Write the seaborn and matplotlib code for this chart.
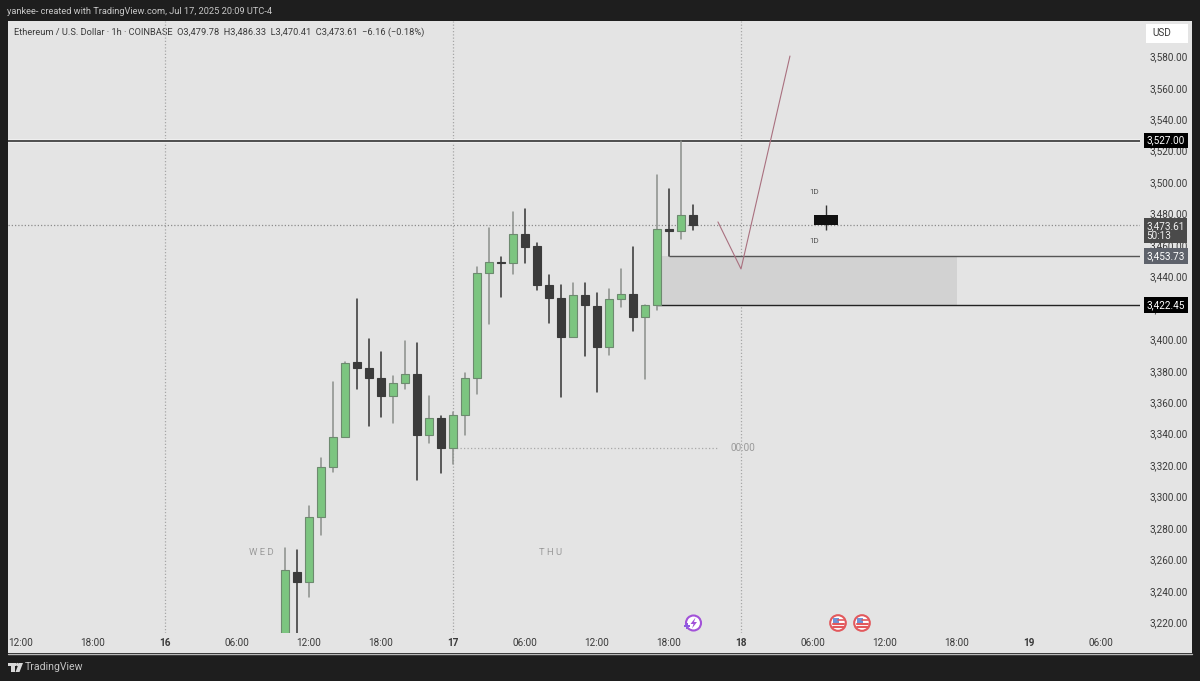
# Ethereum 1h candles, TradingView look
import matplotlib
matplotlib.use("Agg")
import matplotlib.pyplot as plt
from matplotlib.patches import Rectangle, Circle, Polygon
from matplotlib.transforms import ScaledTranslation
import pandas as pd
import seaborn as sns

# hours counted from Jul 16 00:00
hours = list(range(10, 45))
opens = [3205.0, 3252.9, 3246.1, 3287.5, 3319.7, 3338.5, 3386.2, 3382.2, 3375.9, 3364.6,
         3373.1, 3378.8, 3339.8, 3350.6, 3331.7, 3352.7, 3375.9, 3443.0, 3449.9, 3449.0,
         3467.8, 3460.0, 3435.2, 3427.1, 3401.9, 3429.0, 3422.0, 3396.0, 3426.1, 3429.4,
         3414.9, 3422.5, 3470.5, 3469.4, 3479.78]
highs = [3267.8, 3266.7, 3294.9, 3325.4, 3373.7, 3386.4, 3426.3, 3400.9, 3392.4, 3377.3,
         3399.8, 3398.1, 3364.6, 3351.9, 3354.2, 3379.4, 3446.5, 3471.3, 3452.8, 3481.4,
         3483.3, 3461.7, 3441.6, 3435.0, 3436.7, 3436.3, 3429.9, 3432.5, 3445.2, 3459.2,
         3422.5, 3505.1, 3496.1, 3527.0, 3486.33]
lows = [3205.0, 3210.0, 3237.0, 3276.2, 3316.5, 3338.5, 3368.9, 3345.5, 3351.4, 3347.6,
        3369.1, 3311.2, 3334.9, 3315.8, 3321.2, 3339.8, 3365.7, 3410.4, 3427.8, 3442.0,
        3449.0, 3432.0, 3411.2, 3364.2, 3401.9, 3390.2, 3367.3, 3390.7, 3421.0, 3406.1,
        3375.2, 3419.3, 3453.6, 3464.6, 3470.41]
closes = [3253.9, 3246.1, 3287.5, 3319.7, 3338.5, 3385.4, 3382.2, 3375.9, 3364.6, 3373.1,
          3378.8, 3339.8, 3350.6, 3331.7, 3352.7, 3375.9, 3443.0, 3449.6, 3449.0, 3467.8,
          3459.4, 3435.2, 3427.1, 3401.9, 3428.6, 3422.5, 3396.0, 3426.1, 3429.3, 3414.9,
          3422.5, 3470.6, 3469.4, 3479.78, 3473.61]

price_ticks = [3220, 3240, 3260, 3280, 3300, 3320, 3340, 3360, 3380, 3400, 3420, 3440,
               3460, 3480, 3500, 3520, 3540, 3560, 3580]
time_ticks = [-12, -6, 0, 6, 12, 18, 24, 30, 36, 42, 48, 54, 60, 66, 72, 78]
time_labels = ["12:00", "18:00", "16", "06:00", "12:00", "18:00", "17", "06:00", "12:00",
               "18:00", "18", "06:00", "12:00", "18:00", "19", "06:00"]
day_lines = [0, 24, 48]

# drawing levels
level_top = 3527.00
level_mid = 3453.73
level_low = 3422.45
last_close = 3473.61
zone_hours = [41.25, 66]
path_hours = [46.08, 48, 52.08]
path_prices = [3475.3, 3445.4, 3580.8]
midnight_price = 3331.7
day_hour = 55.08
day_open, day_high, day_low, day_close = 3479.78, 3486.33, 3470.41, 3473.61

sns.set_theme(style="white")
plt.rcParams["font.family"] = ["Roboto", "DejaVu Sans"]

BG = "#e4e4e4"
FRAME = "#1e1e1e"
GREEN = "#7cc580"
DARK = "#3b3b3b"
TXT = "#3a3a3a"
TICK_SIZE = 7.2

fig = plt.figure(figsize=(12, 6.81), dpi=100, facecolor=FRAME)

# pixel canvas behind the chart for frame text and icons
ov = fig.add_axes([0, 0, 1, 1], zorder=0)
ov.set_xlim(0, 1200)
ov.set_ylim(681, 0)
ov.axis("off")
ov.add_patch(Rectangle((8, 21), 1184, 632, fc=BG, ec="none"))
ov.plot([8, 1192], [653.5, 653.5], color="#b8b8b8", lw=1)
ov.add_patch(Rectangle((1146, 24), 42, 19, fc="white", ec="none"))
ov.text(1152, 33.5, "USD", fontsize=TICK_SIZE, color=TXT, va="center")
ov.text(7, 11, "yankee- created with TradingView.com, Jul 17, 2025 20:09 UTC-4",
        fontsize=6.7, color="#c8c8c8", va="center")
ov.text(14, 32, "Ethereum / U.S. Dollar · 1h · COINBASE  O3,479.78  H3,486.33  L3,470.41  "
        "C3,473.61  −6.16 (−0.18%)", fontsize=6.7, color=TXT, va="center")

# TradingView mark and name
ov.add_patch(Rectangle((8, 663), 8, 3, fc="#d8d8d8", ec="none"))
ov.add_patch(Rectangle((11, 663), 4, 9, fc="#d8d8d8", ec="none"))
ov.add_patch(Circle((17.5, 664.5), 1.6, fc="#d8d8d8", ec="none"))
ov.add_patch(Polygon([[19, 663], [23, 663], [19.5, 672], [15.5, 672]], fc="#d8d8d8", ec="none"))
ov.text(25, 667.5, "TradingView", fontsize=7.6, color="#c4c4c4", va="center")

# event icons on the time strip
ov.add_patch(Circle((693.5, 623), 7.5, fc="white", ec="#a251d8", lw=1.5))
ov.add_patch(Polygon([[695.5, 617.5], [690.5, 624], [693.5, 624], [692, 628.5], [697, 622], [694, 622]],
                     fc="#a251d8", ec="none"))
ov.scatter([686.5], [626], s=24, marker="P", color="#8f5be0", linewidths=0)
for cx in [838, 862]:
    ov.add_patch(Circle((cx, 623), 7.8, fc="white", ec="#e2585c", lw=1.5))
    for dy in [0.5, 3.5]:
        ov.plot([cx - 5.5, cx + 5.5], [623 + dy, 623 + dy], color="#e2585c", lw=1.5)
    ov.plot([cx, cx + 5.5], [620, 620], color="#e2585c", lw=1.2)
    ov.add_patch(Rectangle((cx - 5.5, 617.5), 6, 5.5, fc="#6f93d6", ec="none"))

# main chart, transparent so the panel shows through
ax = fig.add_axes([8 / 1200, 1 - 633 / 681, 1132 / 1200, 612 / 681], zorder=1)
ax.patch.set_alpha(0)
for side in ax.spines.values():
    side.set_visible(False)

df = pd.DataFrame({"hour": hours, "open": opens, "high": highs, "low": lows, "close": closes})
df["up"] = df["close"] >= df["open"]

# wicks through seaborn, one line per candle
wicks = df.melt(id_vars=["hour", "up"], value_vars=["high", "low"], value_name="price")
sns.lineplot(data=wicks, x="hour", y="price", units="hour", estimator=None, hue="up",
             palette={True: "#8b8f8b", False: "#333333"}, linewidth=1.1, legend=False,
             ax=ax, zorder=3)

# candle bodies
body_low = df[["open", "close"]].min(axis=1)
body_size = (df["close"] - df["open"]).abs().clip(lower=0.9)
ax.bar(df["hour"], body_size, bottom=body_low, width=0.68, zorder=4,
       color=[GREEN if u else DARK for u in df["up"]],
       edgecolor=["#6d8a6f" if u else "#3b3b3b" for u in df["up"]], linewidth=0.8)

# dotted guides
ax.vlines(day_lines, 0, 1, transform=ax.get_xaxis_transform(), color="#a6a6a6",
          lw=0.9, ls=(0, (1, 1.6)), zorder=1)
ax.axhline(last_close, color="#8c8c8c", lw=0.9, ls=(0, (1, 1.6)), zorder=1)
ax.plot([24, 46.2], [midnight_price, midnight_price], color="#a8a8a8", lw=0.9,
        ls=(0, (1, 1.8)), zorder=1)
ax.text(48.2, midnight_price, "00:00", fontsize=7.2, color="#9a9a9a", ha="center", va="center")

# zone and levels
ax.fill_between(zone_hours, level_low, level_mid, color="#d2d2d2", lw=0, zorder=2)
ax.axhline(level_top, color="#f0f0f0", lw=2.8, zorder=2)
ax.axhline(level_top, color="#222222", lw=1.1, zorder=2)
ax.hlines(level_mid, 42, 81.25, color="#555555", lw=1.0, zorder=2)
ax.hlines(level_low, 41, 81.25, color="#222222", lw=1.0, zorder=2)

# projected move
ax.plot(path_hours, path_prices, color="#a9707f", lw=0.8, zorder=5)

# daily candle
ax.vlines(day_hour, day_low, day_high, color="#333333", lw=1.0, zorder=3)
ax.bar(day_hour, day_open - day_close, bottom=day_close, width=2.0, color="#111111",
       edgecolor="none", zorder=4)
ax.text(54.1, 3494.4, "1D", fontsize=5.8, color="#555555", ha="center", va="center")
ax.text(54.1, 3463.0, "1D", fontsize=5.8, color="#555555", ha="center", va="center")

ax.text(8, 3264.8, "W E D", fontsize=6.8, color="#9a9a9a", ha="center", va="center")
ax.text(32.17, 3264.8, "T H U", fontsize=6.8, color="#9a9a9a", ha="center", va="center")

ax.set_xlim(-13.083, 81.25)
ax.set_ylim(3213.9, 3603.08)
ax.set_xlabel("")
ax.set_ylabel("")

ax.yaxis.tick_right()
ax.set_yticks(price_ticks, [f"{p:,.2f}" for p in price_ticks])
ax.set_xticks(time_ticks, time_labels)
ax.tick_params(axis="y", length=0, pad=6.5, labelsize=TICK_SIZE, labelcolor=TXT)
ax.tick_params(axis="x", length=0, pad=3.5, labelsize=TICK_SIZE, labelcolor=TXT)
for lab, name in zip(ax.get_xticklabels(), time_labels):
    if ":" not in name:
        lab.set_fontweight("bold")
for lab in ax.get_yticklabels():
    lab.set_transform(lab.get_transform() + ScaledTranslation(0, 1 / 100, fig.dpi_scale_trans))

# price tags on the right scale
def price_tag(price, text, face, color="white"):
    ax.annotate(text, xy=(1, price), xycoords=ax.get_yaxis_transform(), xytext=(6.5, 0),
                textcoords="offset pixels", fontsize=TICK_SIZE, color=color, va="center", ha="left",
                bbox=dict(boxstyle="square,pad=0.28", fc=face, ec="none"),
                annotation_clip=False, zorder=6)

price_tag(level_top, "3,527.00", "black")
price_tag(level_mid, "3,453.73", "#5e626b")
price_tag(level_low, "3,422.45", "black")
ax.annotate("3,473.61\n50:13", xy=(1, last_close - 4.0), xycoords=ax.get_yaxis_transform(),
            xytext=(6.5, 0), textcoords="offset pixels", fontsize=TICK_SIZE, color="#f0f0f0",
            va="center", ha="left", linespacing=1.0,
            bbox=dict(boxstyle="square,pad=0.25", fc="#4a4a4a", ec="none"),
            annotation_clip=False, zorder=6)

fig.savefig("out.png", dpi=100, facecolor=FRAME)
